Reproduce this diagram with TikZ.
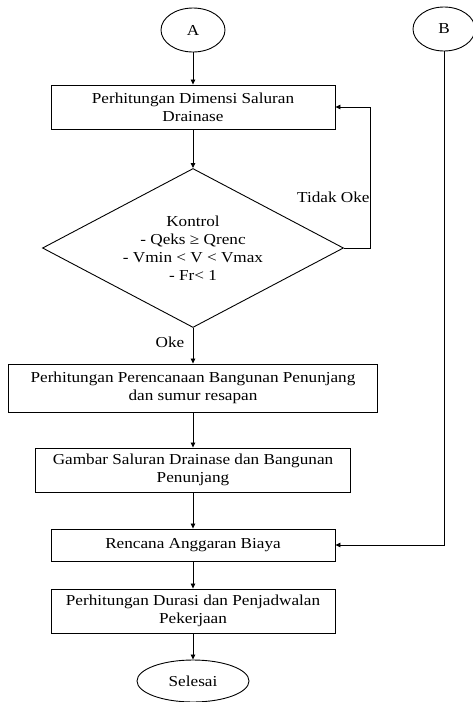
\documentclass[tikz,border=0pt]{standalone}
\usepackage{fontspec}
\setmainfont{Liberation Serif}[FakeStretch=1.13]
\usetikzlibrary{shapes.geometric,arrows.meta}
\newcommand{\flowfont}{\fontsize{15.2pt}{18pt}\selectfont}
\tikzset{
    prosesbox/.style={draw,line width=0.9pt,align=center,inner sep=2pt,font=\flowfont},
    konektor/.style={draw,ellipse,line width=0.9pt,inner sep=0pt,font=\flowfont},
    panah/.style={line width=0.8pt,-{Triangle[length=5pt,width=4.5pt]}},
}

\begin{document}
\begin{tikzpicture}[x=1pt,y=-1pt]
    \pgfmathsetmacro{\midx}{193}
    \pgfmathsetmacro{\boxwidth}{284}
    \fill[white] (0,0) rectangle (472,702);
    \useasboundingbox (0,0) rectangle (472,702);
    % konektor awal
    \node[konektor,minimum width=64pt,minimum height=44pt] (A) at (\midx,30) {A};
    \node[konektor,minimum width=62pt,minimum height=44pt] (B) at (444,29) {B};
    % proses utama
    \node[prosesbox,minimum width=\boxwidth pt,minimum height=44pt] (hitungdimensi) at (\midx,107)
        {Perhitungan Dimensi Saluran\\Drainase};
    \node[draw,diamond,aspect=1.9,line width=0.9pt,inner sep=0pt,align=center,font=\flowfont,
        minimum width=301pt,minimum height=159pt] (kontrol) at (\midx,248)
        {Kontrol\\- Qeks ≥ Qrenc\\- Vmin < V < Vmax\\- Fr< 1};
    \node[prosesbox,minimum width=369pt,minimum height=48pt] (bangunan) at (\midx,388)
        {Perhitungan Perencanaan Bangunan Penunjang\\dan sumur resapan};
    \node[prosesbox,minimum width=315pt,minimum height=44pt] (gambar) at (\midx,470)
        {Gambar Saluran Drainase dan Bangunan\\Penunjang};
    \node[prosesbox,minimum width=\boxwidth pt,minimum height=32pt] (rab) at (\midx,545)
        {Rencana Anggaran Biaya};
    \node[prosesbox,minimum width=\boxwidth pt,minimum height=44pt] (durasi) at (\midx,611)
        {Perhitungan Durasi dan Penjadwalan\\Pekerjaan};
    \node[konektor,minimum width=112pt,minimum height=42pt] (selesai) at (\midx,681) {Selesai};
    % panah
    \draw[panah] (A) -- (hitungdimensi);
    \draw[panah] (hitungdimensi) -- (kontrol);
    \draw[panah] (kontrol) -- node[left=5pt,pos=0.4,font=\flowfont]{Oke} (bangunan);
    \draw[panah] (kontrol.east) -- ++(26,0) |- node[pos=0.18,left,inner sep=0pt,font=\flowfont]{Tidak Oke} (hitungdimensi.east);
    \draw[panah] (bangunan) -- (gambar);
    \draw[panah] (gambar) -- (rab);
    \draw[panah] (rab) -- (durasi);
    \draw[panah] (durasi) -- (selesai);
    \draw[panah] (B) |- (rab.east);
\end{tikzpicture}
\end{document}
